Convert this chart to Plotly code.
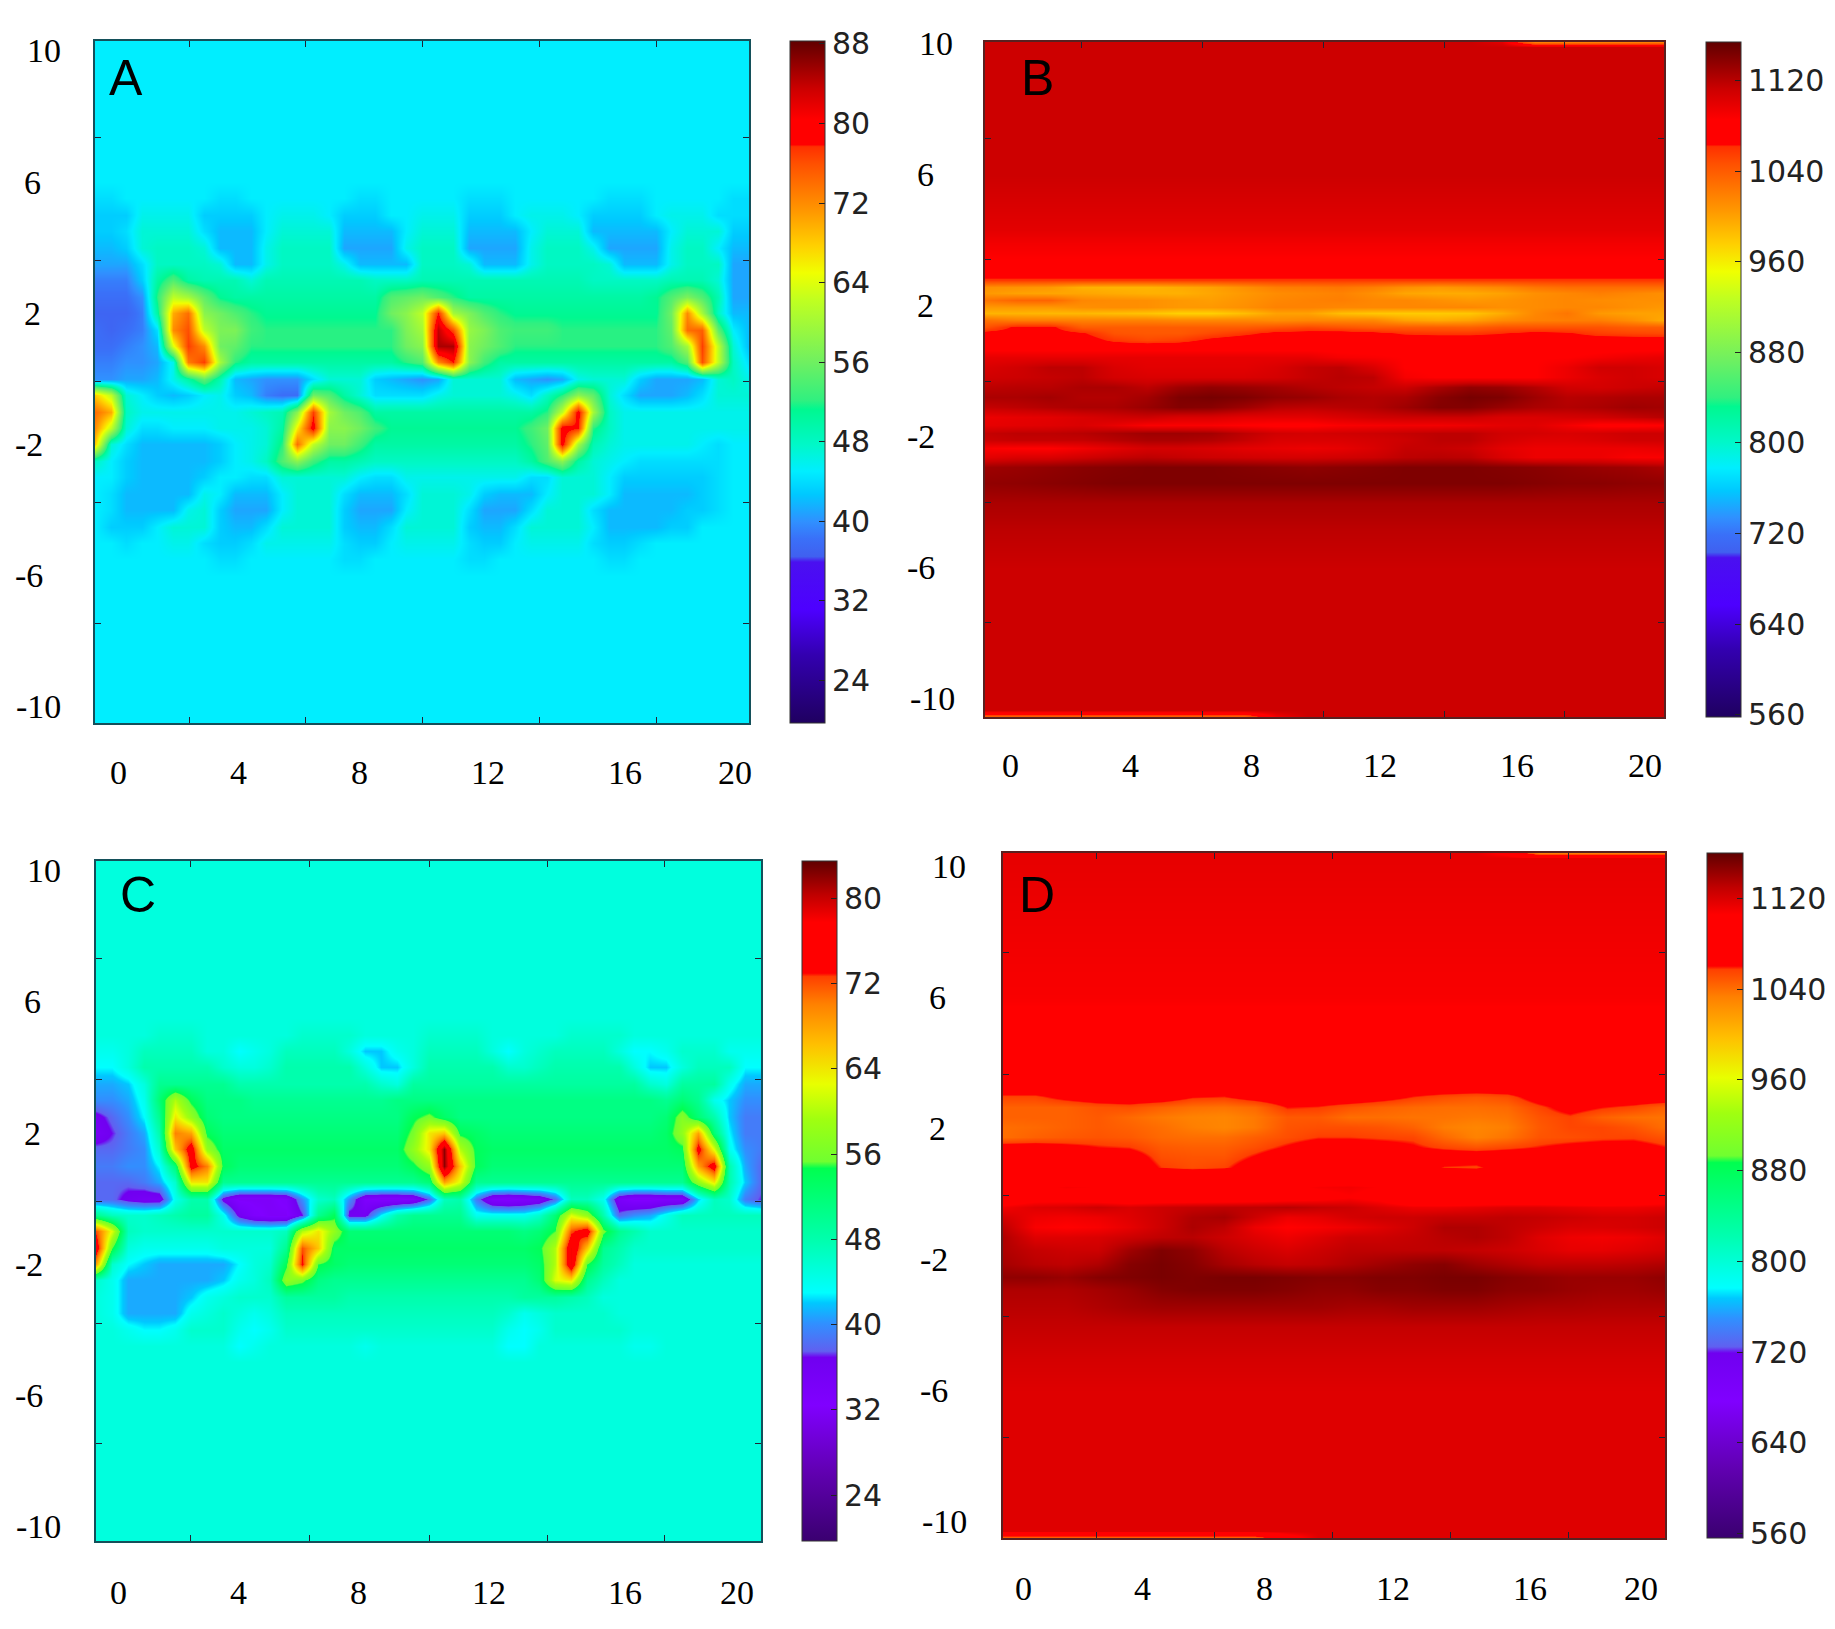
import numpy as np
import plotly.graph_objects as go

W = 1835
H = 1629

# tick labels
X_TEXT = ["0", "4", "8", "12", "16", "20"]
Y_TEXT = ["10", "6", "2", "-2", "-6", "-10"]
Y_LABELS = [10, 6, 2, -2, -6, -10]
BAR_AC = [24, 32, 40, 48, 56, 64, 72, 80, 88]
BAR_C = [24, 32, 40, 48, 56, 64, 72, 80]
BAR_BD = [560, 640, 720, 800, 880, 960, 1040, 1120]

# panel A, rows top to bottom, one value per half unit of x
A_Y = [10.3, 6.0, 5.5, 5.0, 4.5, 4.0, 3.5, 3.0, 2.5, 2.0, 1.5, 1.0, 0.5, 0.0, -0.5, -1.0, -1.5, -2.0, -2.5, -3.0,
       -3.5, -4.0, -4.5, -5.0, -5.5, -6.0, -10.5]
A_Z = [
    [45] * 43,
    [45] * 43,
    [44,44,45,45,45,45,45,45,44,44, 45,45,45,45,45,45,45,44,44,45, 45,45,45,45,44,44,44,45,45,45, 45,45,45,44,44,44,45,45,45,45, 45,44,44],
    [43,43,43,46,46,46,46,43,43,43, 43,45,46,46,46,45,43,43,43,45, 45,46,46,46,43,43,43,45,46,46, 46,45,43,43,43,43,45,46,46,46, 44,44,44],
    [43,43,44,47,47,47,47,44,42,42, 42,45,47,47,47,47,42,42,42,42, 45,47,47,47,42,42,42,42,45,47, 47,47,42,42,42,42,42,45,47,47, 47,43,43],
    [42,42,43,47,48,48,48,47,42,42, 42,46,48,48,48,48,41,41,41,41, 46,48,48,48,41,41,41,41,46,48, 48,48,46,41,41,41,41,46,48,48, 45,42,42],
    [41,41,41,44,48,48,48,48,47,42, 42,46,48,48,48,48,46,42,42,42, 42,48,48,48,47,42,42,42,46,48, 48,48,48,47,42,42,42,46,48,48, 48,41,41],
    [39,39,39,43,50,54,50,49,49,49, 47,49,49,49,49,49,49,49,48,48, 48,49,49,49,49,49,49,49,49,49, 49,49,48,48,48,48,48,49,49,49, 47,41,41],
    [38,38,38,40,52,62,60,55,51,50, 50,50,50,50,50,50,50,50,50,54, 55,56,54,52,50,50,50,50,50,50, 50,50,50,50,50,50,51,54,57,54, 49,41,41],
    [37,37,37,39,50,70,74,58,56,54, 52,51,51,51,51,51,51,51,51,56, 58,62,78,60,57,54,52,51,51,51, 51,51,51,51,51,51,51,56,72,60, 48,42,42],
    [38,37,38,39,44,72,76,62,57,57, 53,52,52,52,52,52,52,52,52,52, 57,60,84,76,59,57,54,53,53,53, 52,52,52,52,52,52,52,55,74,75, 55,45,42],
    [38,38,39,40,42,64,77,72,56,55, 52,52,52,52,52,52,52,52,52,52, 56,58,85,85,58,56,54,52,52,52, 52,52,52,52,52,52,52,54,60,77, 62,47,42],
    [39,39,40,40,41,46,73,77,60,52, 50,50,50,50,50,50,50,50,50,50, 52,54,72,78,58,53,50,50,50,50, 50,50,50,50,50,50,50,50,54,76, 62,48,44],
    [40,40,41,41,42,46,50,55,49,42, 41,40,40,40,44,47,47,47,43,42, 41,40,41,47,47,47,47,42,41,40, 41,46,47,47,47,43,41,41,41,42, 47,48,46],
    [68,62,47,45,43,42,43,45,46,43, 42,39,38,38,56,54,50,47,44,44, 44,44,46,47,47,47,47,46,44,48, 52,58,55,47,44,41,41,41,42,44, 47,47,47],
    [74,70,48,46,46,46,46,46,46,46, 47,48,49,58,77,60,56,54,50,50, 50,50,50,50,50,50,50,50,50,52, 62,80,60,48,46,46,46,46,46,46, 46,46,46],
    [72,62,47,44,44,45,45,45,46,46, 46,47,50,66,80,58,58,56,53,51, 51,51,51,51,51,51,51,51,53,56, 80,78,52,48,46,46,46,46,46,46, 46,46,46],
    [68,47,44,42,42,42,42,42,43,45, 46,47,52,74,62,56,56,53,50,50, 50,50,50,50,50,50,50,50,52,55, 80,60,49,47,46,46,46,46,46,45, 44,45,45],
    [48,45,43,42,42,42,42,42,43,45, 46,48,54,58,53,50,50,49,48,48, 48,48,48,48,48,48,48,48,50,54, 58,50,47,46,45,44,44,44,44,44, 44,45,45],
    [45,45,43,42,42,42,42,43,45,45, 44,44,47,47,47,47,47,45,44,44, 46,46,46,46,46,46,46,46,44,44, 47,47,47,45,43,43,43,43,43,43, 44,45,45],
    [45,44,42,42,42,42,42,46,45,42, 42,42,45,47,47,47,44,42,42,42, 44,47,47,47,46,43,42,42,42,45, 47,47,47,45,42,42,42,42,42,43, 44,45,45],
    [45,44,42,42,42,42,46,47,43,41, 41,41,45,47,47,47,43,41,41,41, 45,47,47,47,44,41,41,41,44,47, 47,47,44,42,42,42,42,42,43,43, 44,45,45],
    [45,43,43,43,45,47,47,47,43,42, 42,44,47,47,47,47,43,42,42,44, 47,47,47,47,43,42,42,44,47,47, 47,47,45,42,42,42,42,43,43,45, 45,45,45],
    [45,45,44,45,45,46,46,44,43,43, 44,46,46,46,46,46,44,43,43,45, 46,46,46,46,44,43,43,45,46,46, 46,46,44,43,43,44,45,45,45,45, 45,45,45],
    [45,45,45,45,45,45,45,45,44,44, 45,45,45,45,45,45,44,44,45,45, 45,45,45,45,44,44,45,45,45,45, 45,45,45,44,44,45,45,45,45,45, 45,45,45],
    [45] * 43,
    [45] * 43,
]

# panel C, same rows as A
C_Y = [10.3, 6.0, 5.5, 5.0, 4.5, 4.0, 3.5, 3.0, 2.5, 2.0, 1.5, 1.0, 0.5, 0.0, -0.5, -1.0, -1.5, -2.0, -2.5, -3.0,
       -3.5, -4.0, -4.5, -5.0, -5.5, -6.0, -10.5]
C_Z = [
    [45] * 43,
    [45] * 43,
    [45] * 43,
    [45,45,45,45,46,46,46,45,45,45, 45,45,45,46,46,46,46,45,45,45, 45,46,46,46,46,45,45,45,45,45, 46,46,46,46,45,45,45,45,45,45, 45,45,45],
    [44,44,45,47,47,47,47,45,45,43, 44,45,47,47,47,47,45,42,42,44, 45,47,47,47,47,45,43,45,46,47, 47,47,47,45,43,43,44,46,46,46, 44,44,44],
    [43,43,45,48,48,48,48,48,46,45, 45,46,48,48,48,48,48,45,42,42, 45,48,48,48,48,48,46,46,47,48, 48,48,48,48,45,42,42,45,47,47, 47,43,43],
    [41,41,42,45,50,50,50,50,50,48, 48,48,48,48,48,48,48,48,46,45, 49,49,49,49,49,49,49,49,49,49, 49,49,49,49,49,46,45,49,49,49, 44,41,41],
    [40,40,41,44,52,60,54,51,51,51, 50,50,50,50,50,50,50,50,50,51, 51,51,51,51,51,51,51,51,51,51, 51,51,51,51,51,51,50,52,50,44, 42,40,40],
    [36,38,40,43,50,64,58,52,51,51, 51,51,51,51,51,51,51,51,51,51, 54,56,53,51,51,51,51,51,51,51, 51,51,51,51,51,51,52,57,52,48, 42,39,39],
    [35,37,39,41,48,70,68,54,52,52, 52,52,52,52,52,52,52,52,52,52, 56,64,66,54,53,52,52,52,52,52, 52,52,52,52,52,52,53,58,68,52, 43,39,39],
    [38,38,39,40,46,66,76,58,53,53, 53,53,53,53,53,53,53,53,53,53, 58,64,82,60,54,53,53,53,53,53, 53,53,53,53,53,53,53,54,75,62, 44,40,39],
    [39,39,40,40,43,52,75,70,54,52, 52,52,52,52,52,52,52,52,52,52, 54,58,82,66,54,52,52,52,52,52, 52,52,52,52,52,52,52,52,68,76, 48,41,38],
    [38,38,38,39,41,46,64,64,50,50, 50,50,50,50,50,50,50,50,50,50, 50,52,68,62,50,50,50,50,50,50, 50,50,50,50,50,50,50,50,58,64, 48,42,38],
    [38,38,36,35,35,44,48,48,36,32, 32,32,33,40,46,47,40,33,32,32, 33,38,47,48,39,33,32,33,34,38, 47,47,44,34,32,32,33,33,42,47, 46,39,37],
    [50,47,46,46,47,48,49,49,44,36, 33,32,32,37,50,54,36,36,43,48, 50,50,50,50,44,44,44,44,46,52, 62,58,48,38,40,41,44,47,47,47, 47,47,47],
    [72,62,47,46,46,46,46,46,46,46, 46,46,47,60,64,58,52,52,52,52, 52,52,52,52,52,52,52,51,52,55, 72,76,56,50,48,46,46,46,46,46, 46,46,46],
    [76,55,45,44,44,44,44,44,45,45, 45,45,50,72,66,53,53,53,53,53, 53,53,53,53,53,53,53,53,54,60, 78,66,50,48,46,46,46,46,46,46, 46,46,46],
    [68,46,43,42,41,41,41,41,41,43, 45,46,54,74,55,53,52,52,52,52, 52,52,52,52,52,52,52,52,53,60, 78,55,49,47,45,45,45,45,45,45, 45,45,45],
    [46,44,41,41,41,41,41,41,42,44, 45,47,58,56,51,50,50,50,50,50, 50,50,50,50,50,50,50,50,52,62, 64,50,47,45,45,45,45,45,45,45, 45,45,45],
    [45,44,41,41,41,41,42,44,45,46, 46,46,49,49,49,49,48,48,48,48, 48,48,48,48,48,48,48,49,49,49, 48,47,45,45,45,45,45,45,45,45, 45,45,45],
    [45,44,41,41,41,41,44,45,46,45, 44,45,47,47,47,47,47,47,47,47, 47,47,47,47,47,47,46,44,45,46, 46,46,46,45,45,45,45,45,45,45, 45,45,45],
    [45,45,44,43,43,44,46,46,46,44, 43,44,46,46,46,46,46,46,46,46, 46,46,46,46,46,46,44,43,44,46, 46,46,46,46,45,45,45,45,45,45, 45,45,45],
    [45,45,45,45,45,45,45,45,45,43, 44,45,45,45,45,45,45,44,45,45, 45,45,45,45,45,45,43,43,45,45, 45,45,45,45,44,44,45,45,45,45, 45,45,45],
    [45] * 43,
    [45] * 43,
    [45] * 43,
    [45] * 43,
]

# panel B, rows top to bottom, one value per unit of x
B_Y = [10.04, 9.9, 6.0, 5.0, 4.3, 3.9, 3.4, 3.0, 2.78, 2.57, 2.37, 2.17, 1.96, 1.76, 1.56, 1.35, 1.15, 0.95, 0.74, 0.44,
       0.13, -0.17, -0.48, -0.78, -1.09, -1.39, -1.65, -1.9, -2.11, -2.36, -2.61, -2.92, -3.43, -4.04, -4.85, -6.0,
       -10.35, -10.56]
B_Z = [
    [1112,1112,1112,1112,1112,1112,1112,1112,1112,1112,1112,1112,1112,1112,1112,1112,1100,1020,1020,1020,1020,1020],
    [1112] * 22,
    [1112] * 22,
    [1105] * 22,
    [1100] * 22,
    [1092] * 22,
    [1085] * 22,
    [1075] * 22,
    [1058] * 22,
    [1010,1008,1005,992,990,990,995,1000,1010,1020,1022,1025,1020,1010,1005,1010,1015,1025,1030,1030,1030,1030],
    [1005,1000,998,998,995,992,992,998,1005,1012,1015,1018,1010,998,995,995,1000,1010,1015,1020,1015,1010],
    [1025,1035,1035,1015,1012,1010,1005,1002,1008,1015,1018,1020,1015,1015,1010,1005,1008,1012,1015,1012,1010,1010],
    [1005,1005,1005,1010,1012,1010,1005,1005,1010,1018,1018,1015,1015,1015,1015,1015,1010,1012,1015,1015,1010,1005],
    [990,990,988,988,985,982,975,975,985,1000,1000,985,980,978,978,980,995,1015,1025,1005,1000,1000],
    [1028,1020,1020,1018,1018,1018,1015,1015,1015,1012,1015,1015,1015,1000,995,1000,1012,1018,1020,1020,1010,995],
    [1045,1068,1068,1040,1040,1040,1040,1040,1040,1045,1050,1045,1040,1040,1040,1038,1045,1045,1045,1045,1040,1040],
    [1070,1072,1072,1065,1045,1042,1042,1050,1058,1068,1070,1072,1068,1060,1058,1058,1062,1068,1065,1055,1052,1050],
    [1075,1075,1075,1075,1058,1050,1055,1068,1075,1075,1075,1075,1075,1075,1075,1075,1075,1075,1075,1075,1075,1075],
    [1080] * 22,
    [1098,1098,1098,1098,1098,1098,1098,1098,1098,1098,1098,1090,1088,1085,1085,1085,1085,1085,1085,1090,1095,1098],
    [1105,1110,1118,1118,1105,1100,1100,1100,1100,1105,1115,1118,1105,1085,1083,1083,1083,1085,1095,1110,1110,1105],
    [1110,1112,1115,1118,1108,1105,1105,1105,1105,1108,1115,1120,1118,1090,1085,1085,1085,1085,1095,1105,1110,1105],
    [1118,1120,1120,1125,1125,1118,1130,1135,1132,1128,1122,1118,1115,1112,1125,1135,1132,1122,1110,1108,1112,1115],
    [1125,1125,1128,1122,1122,1128,1142,1145,1142,1135,1132,1125,1122,1125,1138,1145,1142,1130,1120,1122,1125,1125],
    [1115,1118,1122,1125,1125,1132,1140,1138,1130,1120,1118,1120,1122,1130,1140,1140,1132,1125,1122,1125,1130,1128],
    [1095,1098,1100,1105,1110,1112,1105,1105,1100,1100,1100,1105,1110,1112,1112,1112,1105,1105,1108,1110,1115,1120],
    [1098,1100,1102,1105,1098,1088,1088,1088,1085,1082,1082,1088,1090,1092,1092,1095,1100,1102,1092,1082,1082,1085],
    [1115,1118,1118,1120,1125,1130,1130,1128,1118,1110,1108,1110,1112,1115,1118,1118,1110,1108,1105,1108,1112,1112],
    [1112,1115,1115,1115,1120,1125,1125,1122,1115,1105,1105,1105,1108,1112,1118,1118,1108,1102,1102,1105,1110,1110],
    [1088,1085,1085,1092,1100,1108,1108,1105,1100,1098,1095,1098,1105,1115,1115,1112,1100,1095,1095,1095,1095,1098],
    [1100,1105,1105,1110,1115,1118,1115,1112,1110,1108,1108,1110,1112,1118,1120,1118,1105,1095,1095,1095,1088,1088],
    [1130,1132,1135,1138,1140,1142,1142,1142,1140,1138,1136,1138,1140,1142,1142,1142,1140,1138,1135,1132,1130,1125],
    [1135,1136,1138,1140,1142,1142,1142,1142,1142,1142,1142,1142,1142,1142,1142,1142,1142,1140,1138,1138,1136,1135],
    [1125] * 22,
    [1118] * 22,
    [1112] * 22,
    [1112] * 22,
    [1030,1030,1030,1030,1030,1030,1030,1030,1030,1090,1112,1112,1112,1112,1112,1112,1112,1112,1112,1112,1112,1112],
]

# panel D, rows top to bottom
D_Y = [10.4, 10.25, 6.0, 5.0, 4.0, 3.27, 2.96, 2.66, 2.35, 2.04, 1.74, 1.43, 1.13, 0.82, 0.52, 0.21, -0.09, -0.4, -0.7,
       -1.01, -1.31, -1.72, -2.13, -2.53, -2.94, -3.45, -4.06, -5.0, -6.0, -10.3, -10.5]
D_Z = [
    [1115,1115,1115,1115,1115,1115,1115,1115,1115,1115,1115,1115,1115,1115,1115,1115,1100,1035,1035,1035,1035,1035],
    [1115] * 22,
    [1108] * 22,
    [1100] * 22,
    [1085] * 22,
    [1075] * 22,
    [1055,1055,1065,1072,1075,1072,1060,1058,1068,1075,1075,1075,1068,1058,1052,1048,1052,1070,1075,1075,1075,1075],
    [1045,1045,1045,1050,1052,1045,1040,1038,1042,1060,1058,1050,1045,1042,1040,1040,1042,1055,1068,1060,1055,1045],
    [1045,1045,1045,1048,1042,1036,1032,1030,1036,1048,1048,1040,1040,1038,1038,1036,1038,1050,1056,1045,1040,1038],
    [1040,1042,1045,1048,1045,1040,1034,1030,1036,1050,1052,1052,1050,1045,1034,1030,1034,1048,1055,1055,1050,1040],
    [1040,1045,1048,1050,1048,1042,1040,1040,1046,1052,1058,1058,1056,1055,1042,1032,1038,1050,1052,1055,1056,1050],
    [1070,1070,1065,1060,1058,1048,1046,1046,1052,1062,1072,1072,1068,1062,1055,1050,1055,1060,1065,1068,1068,1060],
    [1075,1075,1075,1075,1072,1052,1050,1050,1062,1075,1075,1075,1075,1075,1075,1075,1075,1075,1075,1075,1075,1072],
    [1080,1080,1080,1080,1078,1058,1052,1056,1072,1080,1080,1080,1080,1080,1058,1055,1078,1082,1082,1082,1082,1082],
    [1090] * 22,
    [1090,1100,1108,1105,1095,1088,1092,1098,1098,1100,1108,1110,1105,1085,1080,1080,1080,1080,1085,1095,1105,1100],
    [1085,1095,1095,1088,1082,1085,1085,1085,1088,1092,1098,1105,1098,1075,1075,1075,1075,1075,1075,1078,1085,1090],
    [1110,1118,1120,1125,1120,1125,1128,1130,1130,1132,1128,1125,1118,1112,1112,1115,1118,1118,1115,1112,1112,1115],
    [1122,1112,1110,1112,1118,1125,1135,1138,1125,1112,1115,1122,1125,1125,1128,1128,1130,1128,1125,1122,1122,1125],
    [1130,1108,1105,1108,1115,1125,1136,1130,1112,1105,1108,1112,1118,1125,1135,1135,1130,1125,1120,1120,1122,1125],
    [1135,1118,1118,1120,1125,1130,1132,1125,1118,1112,1118,1125,1125,1128,1132,1135,1130,1118,1112,1110,1112,1118],
    [1135,1128,1125,1125,1140,1150,1145,1132,1125,1120,1125,1130,1130,1130,1130,1128,1125,1120,1115,1115,1118,1122],
    [1138,1132,1130,1135,1148,1152,1148,1138,1132,1128,1130,1135,1140,1145,1148,1140,1135,1130,1130,1130,1132,1135],
    [1145,1145,1142,1148,1150,1152,1150,1152,1152,1150,1148,1148,1150,1150,1152,1152,1148,1145,1142,1142,1142,1145],
    [1135,1135,1135,1138,1142,1148,1150,1150,1150,1148,1145,1145,1148,1148,1150,1150,1146,1145,1142,1140,1140,1142],
    [1132,1132,1132,1135,1138,1140,1140,1140,1140,1140,1140,1138,1138,1140,1140,1140,1138,1136,1136,1135,1135,1135],
    [1128] * 22,
    [1122] * 22,
    [1118] * 22,
    [1118] * 22,
    [1035,1035,1035,1035,1035,1035,1035,1035,1035,1090,1118,1118,1118,1118,1118,1118,1118,1118,1118,1118,1118,1118],
]

# colour maps
SCALE_TOP = [
    [0.0, "#1f0060"], [0.10, "#3300b0"], [0.166, "#4d00ff"], [0.236, "#4a10f0"], [0.244, "#4060f0"],
    [0.27, "#3a70f8"], [0.295, "#3090ff"], [0.335, "#00c8ff"], [0.369, "#00eeff"], [0.408, "#00f8c8"],
    [0.46, "#00f890"], [0.473, "#30f080"], [0.53, "#70f060"], [0.62, "#c0ff20"], [0.66, "#f0ff00"],
    [0.70, "#ffd000"], [0.75, "#ff9800"], [0.82, "#ff5000"], [0.845, "#ff3000"], [0.848, "#ff0000"],
    [0.885, "#ff0000"], [0.93, "#cc0000"], [1.0, "#600000"],
]
SCALE_BOTTOM = [
    [0.0, "#3a0070"], [0.10, "#6000b0"], [0.2, "#8000ff"], [0.27, "#7000f0"], [0.279, "#6060f0"],
    [0.32, "#3090ff"], [0.35, "#00c8ff"], [0.365, "#00ffff"], [0.44, "#00ffb0"], [0.548, "#00ff50"],
    [0.558, "#70ff30"], [0.62, "#a0ff10"], [0.672, "#e8ff00"], [0.73, "#ffc000"], [0.79, "#ff8000"],
    [0.83, "#ff4000"], [0.835, "#ff0000"], [0.91, "#ff0000"], [0.95, "#c00000"], [1.0, "#600000"],
]


def px_x(p):
    return p / W


def px_y(p):
    return 1 - p / H


fig = go.Figure()
layout = dict(width=W, height=H, margin=dict(l=0, r=0, t=0, b=0), paper_bgcolor="white", plot_bgcolor="white",
              showlegend=False)
notes = []


def add_note(**kw):
    notes.append(dict(showarrow=False, xanchor="center", yanchor="middle", **kw))


def add_panel(n, letter, box, xr, yr, rows, z, zr, scale, bar, bar_ticks, xt, yt, xlab, xlab_y, ylab_x, letter_pos, line):
    ax = "" if n == 1 else str(n)
    left, top, right, bottom = box
    ncol = len(z[0])
    fig.add_trace(go.Heatmap(
        x=np.linspace(xr[0], xr[1], ncol), y=rows[::-1], z=z[::-1], xaxis="x" + ax, yaxis="y" + ax,
        zmin=zr[0], zmax=zr[1], zsmooth="best", colorscale=scale, hoverinfo="skip",
        colorbar=dict(x=px_x(bar[0]), xanchor="left", y=px_y((top + bottom) / 2), yanchor="middle",
                      len=(bottom - top) / H, thickness=bar[1] - bar[0], xpad=0, ypad=0,
                      tickvals=bar_ticks, ticks="inside", ticklen=6, tickcolor="#222", tickwidth=1,
                      tickfont=dict(family="DejaVu Sans", size=30, color="#222"),
                      outlinecolor="#333", outlinewidth=1),
    ))
    layout["xaxis" + ax] = dict(domain=[px_x(left), px_x(right)], range=xr, anchor="y" + ax, tickvals=xt,
                                showticklabels=False, ticks="inside", ticklen=6, tickcolor="#223", showgrid=False,
                                zeroline=False, showline=True, mirror="ticks", linecolor=line, linewidth=1.5)
    layout["yaxis" + ax] = dict(domain=[px_y(bottom), px_y(top)], range=yr, anchor="x" + ax, tickvals=yt,
                                showticklabels=False, ticks="inside", ticklen=6, tickcolor="#223", showgrid=False,
                                zeroline=False, showline=True, mirror="ticks", linecolor=line, linewidth=1.5)
    for t, v in zip(X_TEXT, xlab):
        add_note(x=v, y=px_y(xlab_y), xref="x" + ax, yref="paper", text=t,
                 font=dict(family="Liberation Serif", size=34, color="black"))
    for t, v, p in zip(Y_TEXT, Y_LABELS, ylab_x):
        add_note(x=px_x(p), y=v, xref="paper", yref="y" + ax, text=t,
                 font=dict(family="Liberation Serif", size=34, color="black"))
    add_note(x=px_x(letter_pos[0]), y=px_y(letter_pos[1]), xref="paper", yref="paper", text=letter,
             font=dict(family="Liberation Sans", size=50, color="black"))


add_panel(1, "A", (95, 41, 749, 723), [-0.75, 20.45], [-10.49, 10.3], A_Y, A_Z, (19.7, 88.3), SCALE_TOP,
          (790, 825), BAR_AC, [2.3, 6.06, 9.85, 13.65, 17.44], [7.35, 3.6, -0.09, -3.78, -7.47],
          [0, 3.89, 7.81, 11.99, 16.43, 20], 772, [44, 32, 32, 29, 29, 38], (126, 78), "#14505a")
add_panel(2, "B", (985, 42, 1664, 717), [-0.79, 20.6], [-10.56, 10.04], B_Y, B_Z, (558, 1154), SCALE_TOP,
          (1706, 1741), BAR_BD, [2.24, 6.05, 9.86, 13.67, 17.48], [7.08, 3.39, -0.31, -4.0, -7.69],
          [0, 3.78, 7.59, 11.65, 15.97, 20], 765, [936, 925, 925, 921, 921, 933], (1037, 78), "#5a2020")
add_panel(3, "C", (96, 861, 761, 1541), [-0.74, 20.78], [-10.45, 10.3], C_Y, C_Z, (19.7, 83.5), SCALE_BOTTOM,
          (802, 837), BAR_C, [2.33, 6.18, 10.06, 13.88, 17.67], [7.32, 3.62, -0.08, -3.8, -7.47],
          [0, 3.88, 7.77, 11.97, 16.37, 20], 1592, [44, 32, 32, 29, 29, 38], (138, 895), "#14505a")
add_panel(4, "D", (1003, 853, 1665, 1538), [-0.65, 20.78], [-10.5, 10.4], D_Y, D_Z, (556, 1160), SCALE_BOTTOM,
          (1707, 1743), BAR_BD, [2.39, 6.2, 10.03, 13.85, 17.67], [7.35, 3.65, -0.04, -3.73, -7.42],
          [0, 3.85, 7.8, 11.98, 16.41, 20], 1588, [949, 937, 937, 934, 934, 944], (1037, 895), "#5a2020")

layout["annotations"] = notes
fig.update_layout(**layout)

# page margin would push the fixed-size figure off the window
fig.write_html("out.html", config={"displayModeBar": False}, post_script="document.body.style.margin='0';")
